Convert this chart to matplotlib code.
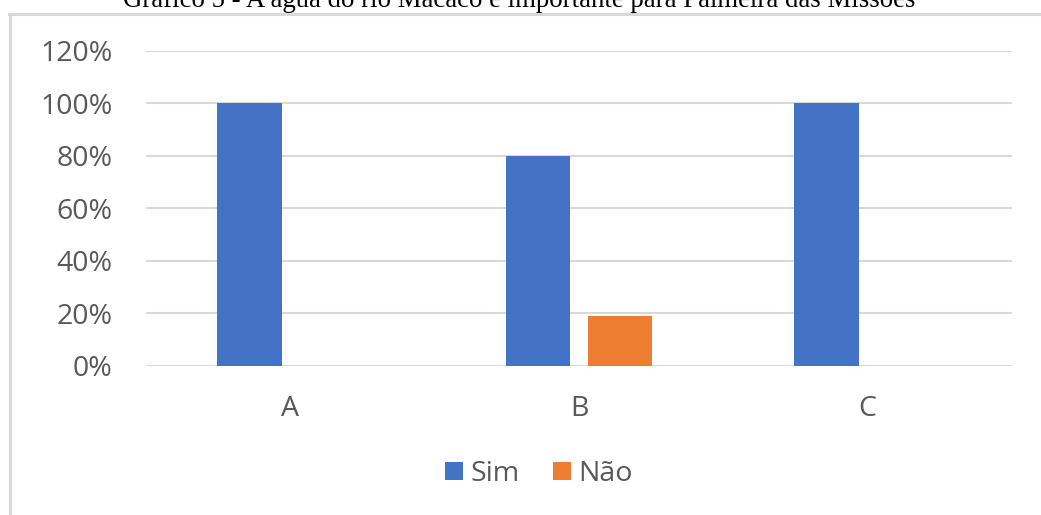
import matplotlib
matplotlib.use("Agg")
import matplotlib.pyplot as plt
from matplotlib.lines import Line2D
from matplotlib.patches import Patch
import numpy as np

# Survey answers per group
categories = ["A", "B", "C"]
sim_values = [1.00, 0.80, 1.00]
nao_values = [0.00, 0.19, 0.00]
series_names = ["Sim", "Não"]
y_ticks = [0.0, 0.2, 0.4, 0.6, 0.8, 1.0, 1.2]
y_tick_labels = ["0%", "20%", "40%", "60%", "80%", "100%", "120%"]
title_text = "Gráfico 5 - A água do rio Macaco é importante para Palmeira das Missões"

W, H = 1041, 515
fig = plt.figure(figsize=(W / 100, H / 100), dpi=100)
fig.patch.set_facecolor("white")

blue = "#4472C4"
orange = "#ED7D31"
grid_col = "#D9D9D9"
txt_col = "#595959"
font = "Open Sans"
fsize = 20.5

# Plot area
left, right = 146 / W, 1012 / W
bottom, top = (H - 366) / H, (H - 50.5) / H
ax = fig.add_axes([left, bottom, right - left, top - bottom])

x = np.arange(len(categories))
bw = 0.225
off = 0.142
ax.bar(x - off, sim_values, width=bw, color=blue, zorder=3)
ax.bar(x + off, nao_values, width=bw, color=orange, zorder=3)

ax.set_xlim(-0.5, 2.5)
ax.set_ylim(0, 1.2)
ax.set_yticks(y_ticks)
ax.set_yticklabels(y_tick_labels)
ax.set_xticks(x)
ax.set_xticklabels(categories)
ax.yaxis.grid(True, color=grid_col, linewidth=1.5, zorder=0)
ax.set_axisbelow(True)
for s in ax.spines.values():
    s.set_visible(False)
ax.tick_params(axis="both", length=0, labelsize=fsize, labelcolor=txt_col)
ax.tick_params(axis="y", pad=24)
ax.tick_params(axis="x", pad=21)
for lbl in ax.get_xticklabels() + ax.get_yticklabels():
    lbl.set_fontfamily(font)

# Outer chart frame (left and top edges)
fig.add_artist(Line2D([9.5 / W, 9.5 / W], [0, (H - 13.5) / H], transform=fig.transFigure,
                      color=grid_col, linewidth=2.2))
fig.add_artist(Line2D([8.5 / W, 1.0], [(H - 13.5) / H, (H - 13.5) / H], transform=fig.transFigure,
                      color=grid_col, linewidth=2.2))

# Caption above the chart
fig.text(519 / W, (H - 7) / H, title_text, ha="center", va="baseline",
         fontsize=19.3, family="Liberation Serif", color="black")

# Legend
handles = [Patch(facecolor=blue, edgecolor="none"), Patch(facecolor=orange, edgecolor="none")]
fig.legend(handles, series_names, loc="center", bbox_to_anchor=(539 / W, (H - 474) / H),
           ncol=2, frameon=False, prop={"family": font, "size": fsize}, labelcolor=txt_col,
           handlelength=0.63, handleheight=0.55, handletextpad=0.28, columnspacing=1.15,
           borderpad=0)

fig.savefig("out.png", dpi=100, facecolor="white")
